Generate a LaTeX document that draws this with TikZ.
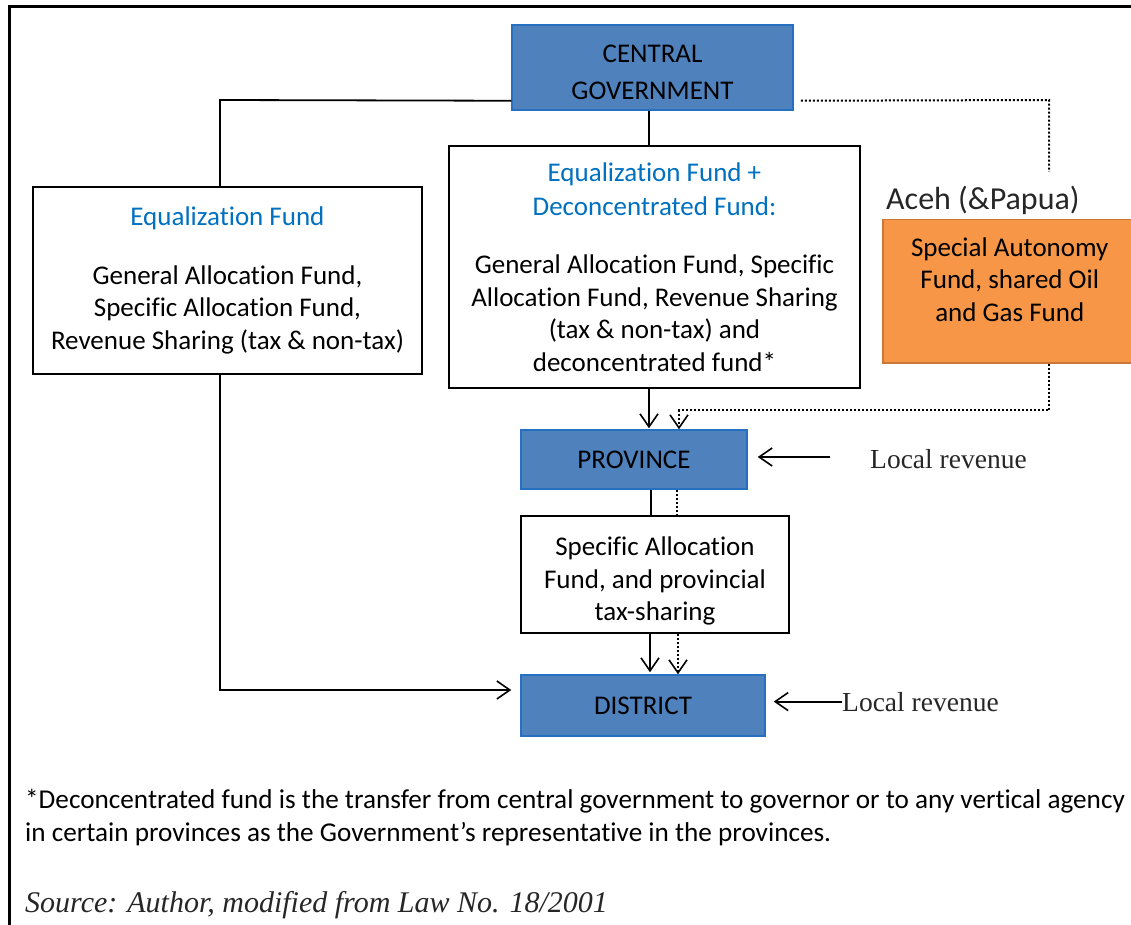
\documentclass[tikz,border=0pt]{standalone}
\usepackage{fontspec}
\setmainfont{Carlito}[Ligatures=NoCommon]
\newfontfamily\camb{Liberation Serif}
\usetikzlibrary{arrows.meta}
\definecolor{boxblue}{HTML}{4F81BD}
\definecolor{boxblueline}{HTML}{2570C0}
\definecolor{titleblue}{HTML}{0070C0}
\definecolor{orangefill}{HTML}{F79646}
\definecolor{orangeline}{HTML}{C9783A}
\definecolor{acehgray}{HTML}{262626}
\begin{document}
\begin{tikzpicture}[x=1pt,y=-1pt,
  every node/.style={font=\fontsize{27}{32.5}\selectfont},
  bluebox/.style={draw=boxblueline, line width=1.5pt, fill=boxblue, inner sep=0pt, align=center},
  whitebox/.style={draw=black, line width=1.5pt, fill=white, inner sep=0pt, align=center},
  orangebox/.style={draw=orangeline, line width=1.5pt, fill=orangefill, inner sep=0pt, align=center},
  conn/.style={line width=1.8pt},
  dotconn/.style={line width=2pt, dash pattern=on 2pt off 2pt},
  arr/.style={-{Straight Barb[length=13pt,width=18pt,line width=1.6pt]}},
  revtext/.style={font=\camb\fontsize{27.5}{32}\selectfont, text=acehgray, inner sep=0pt}
]
\useasboundingbox (0,0) rectangle (1131,925);
\draw[line width=3pt] (9,925) -- (9,7) -- (1131,7);

% boxes
\node[bluebox, minimum width=281pt, minimum height=85pt, font=\fontsize{27}{37}\selectfont, text height=64pt] (cg) at (652.5,67.5) {CENTRAL\\GOVERNMENT};
\node[whitebox, minimum width=389pt, minimum height=187pt] (lb) at (227.5,280.5)
  {\textcolor{titleblue}{Equalization Fund}\\[26pt]General Allocation Fund,\\Specific Allocation Fund,\\Revenue Sharing (tax \& non-tax)};
\node[whitebox, minimum width=411pt, minimum height=242pt] (mb) at (654.5,267)
  {\textcolor{titleblue}{Equalization Fund +}\\[1.5pt]\textcolor{titleblue}{Deconcentrated Fund:}\\[26pt]General Allocation Fund, Specific\\Allocation Fund, Revenue Sharing\\(tax \& non-tax) and\\deconcentrated fund*};
\node[font=\fontsize{32}{36}\selectfont, text=acehgray, anchor=base west, inner sep=0pt] (aceh) at (886,210) {Aceh (\&Papua)};
\node[orangebox, minimum width=254pt, minimum height=143pt, anchor=north west, text depth=24pt] (or) at (882,219)
  {Special Autonomy\\Fund, shared Oil\\and Gas Fund};
\node[bluebox, minimum width=226pt, minimum height=59pt] (pr) at (634,459.5) {PROVINCE};
\node[whitebox, minimum width=268pt, minimum height=117pt, text height=97pt] (sb) at (655,574.5)
  {Specific Allocation\\Fund, and provincial\\tax-sharing};
\node[bluebox, minimum width=244pt, minimum height=61pt] (ds) at (643,705.5) {DISTRICT};
\node[revtext, anchor=base west] (lr1) at (870,468) {Local revenue};
\node[revtext, anchor=base west] (lr2) at (842,711) {Local revenue};

% footnote
\node[anchor=base west, inner sep=0pt, font=\fontsize{27.2}{32.5}\selectfont] (fn1) at (25,808) {*Deconcentrated fund is the transfer from central government to governor or to any vertical agency};
\node[anchor=base west, inner sep=0pt, font=\fontsize{27.2}{32.5}\selectfont] (fn2) at (25,841) {in certain provinces as the Government’s representative in the provinces.};
\node[anchor=base west, inner sep=0pt, font=\camb\itshape\fontsize{30}{34}\selectfont, text=acehgray] (src) at (25,912) {Source: Author, modified from Law No. 18/2001};

% helper coordinates
\coordinate (xl) at (220,0);
\coordinate (xc) at (649,0);
\coordinate (xo) at (1049,0);
\coordinate (xd) at (679,0);
\coordinate (xp1) at (651,0);
\coordinate (xp2) at (677,0);
\coordinate (xs1) at (650,0);
\coordinate (xs2) at (678,0);
\coordinate (ytop) at (0,100);
\coordinate (ymid) at (0,410);
\coordinate (ylow) at (0,690);
\coordinate (acehend) at (1049,172);
\coordinate (lr1a) at (830,457);

% connectors
\draw[conn] ([yshift=10pt]cg.south west) -- (xl |- ytop) -- (xl |- lb.north);
\draw[conn] (xc |- cg.south) -- (xc |- mb.north);
\draw[dotconn] ([yshift=10pt,xshift=7pt]cg.south east) -- (xo |- ytop) -- (acehend);
\draw[conn,arr] (xc |- mb.south) -- ([yshift=1pt]xc |- pr.north);
\draw[dotconn,arr] (xo |- or.south) -- (xo |- ymid) -- (xd |- ymid) -- (xd |- pr.north);
\draw[conn,arr] (lr1a) -- ([xshift=10pt]pr.east |- lr1a);
\draw[conn] (xp1 |- pr.south) -- (xp1 |- sb.north);
\draw[dotconn] (xp2 |- pr.south) -- (xp2 |- sb.north);
\draw[conn,arr] (xs1 |- sb.south) -- ([yshift=2pt]xs1 |- ds.north);
\draw[dotconn,arr] (xs2 |- sb.south) -- (xs2 |- ds.north);
\draw[conn,arr] (xl |- lb.south) -- (xl |- ylow) -- ([xshift=-9pt]ds.west |- ylow);
\draw[conn,arr] (lr2.west) -- ([xshift=8pt]ds.east |- lr2.west);
\end{tikzpicture}
\end{document}
